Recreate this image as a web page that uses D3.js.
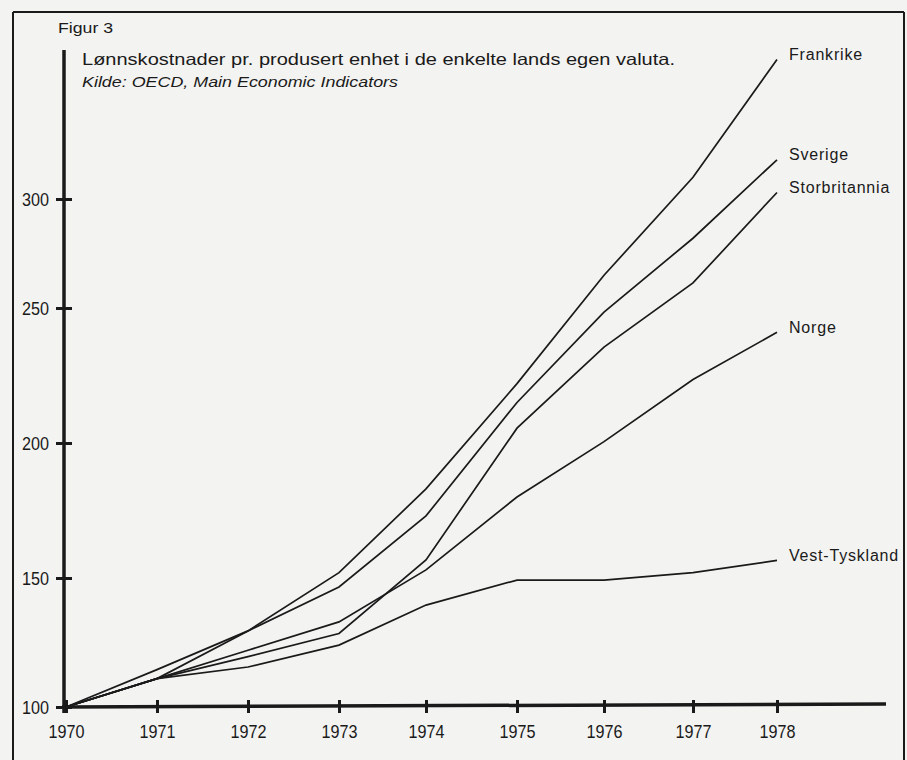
<!DOCTYPE html>
<html>
<head>
<meta charset="utf-8">
<script src="https://cdn.jsdelivr.net/npm/d3@7"></script>
<style>
  body { margin: 0; background: #f3f3f1; }
  svg { display: block; }
  text { font-family: "Liberation Sans", Arial, Helvetica, sans-serif; fill: #1a1a1a; }
</style>
</head>
<body>
<svg></svg>
<script>
// values (index, own currency)
const years = [1970, 1971, 1972, 1973, 1974, 1975, 1976, 1977, 1978];
const frankrike = [100, 114.5, 129.5, 152, 183, 222, 265, 310, 364];
const sverige = [100, 111, 129.5, 146.5, 173, 215, 248.5, 282, 318];
const storbritannia = [100, 111, 119.5, 128.5, 156.7, 205.5, 235.5, 261.5, 303];
const norge = [100, 111, 122, 133, 153, 180, 200.5, 223.5, 241];
const vestTyskland = [100, 111, 115.5, 124, 139.5, 149.2, 149.2, 152, 156.5];
const seriesNames = ["Frankrike", "Sverige", "Storbritannia", "Norge", "Vest-Tyskland"];
const yTicks = [100, 150, 200, 250, 300];

const width = 907;
const height = 760;
const ink = "#1a1a1a";
const svg = d3.select("svg").attr("width", width).attr("height", height);

const allSeries = [frankrike, sverige, storbritannia, norge, vestTyskland];

// the printed axes are not evenly spaced, so both scales are piecewise
const xScale = d3
  .scaleLinear()
  .domain(years)
  .range([66, 157, 248, 339, 426, 517, 604, 693, 777]);

const yScale = d3
  .scaleLinear()
  .domain(yTicks)
  .range([707, 578, 443, 308, 199]);

// frame
const frame = svg.append("g").attr("stroke", ink).attr("stroke-width", 2);
frame.append("line").attr("x1", 13).attr("y1", 12).attr("x2", 904).attr("y2", 12);
frame.append("line").attr("x1", 13).attr("y1", 12).attr("x2", 13).attr("y2", height);
frame.append("line").attr("x1", 904).attr("y1", 12).attr("x2", 904).attr("y2", height);

// texts at the top
svg.append("text")
  .attr("x", 58).attr("y", 33)
  .attr("font-size", 15)
  .attr("textLength", 55).attr("lengthAdjust", "spacingAndGlyphs")
  .text("Figur 3");

svg.append("text")
  .attr("x", 82).attr("y", 65)
  .attr("font-size", 16.5)
  .attr("textLength", 593).attr("lengthAdjust", "spacingAndGlyphs")
  .text("Lønnskostnader pr. produsert enhet i de enkelte lands egen valuta.");

svg.append("text")
  .attr("x", 82).attr("y", 87)
  .attr("font-size", 15)
  .attr("font-style", "italic")
  .attr("textLength", 316).attr("lengthAdjust", "spacingAndGlyphs")
  .text("Kilde: OECD, Main Economic Indicators");

// axes
const yAxis = d3.axisLeft(yScale).tickValues(yTicks).tickSize(8).tickSizeOuter(0).tickPadding(7);
const gy = svg.append("g").attr("transform", "translate(64,0)").call(yAxis);
gy.select(".domain").remove();
gy.selectAll(".tick line").attr("x1", 8).attr("stroke", ink).attr("stroke-width", 3);
gy.selectAll(".tick text")
  .attr("font-size", 19)
  .attr("font-family", "'Liberation Sans', Arial, sans-serif")
  .attr("textLength", 27).attr("lengthAdjust", "spacingAndGlyphs")
  .attr("fill", ink);

const xAxis = d3.axisBottom(xScale).tickValues(years).tickFormat(d3.format("d")).tickSize(6).tickSizeOuter(0).tickPadding(12);
const gx = svg.append("g").attr("transform", "translate(0," + yScale(100) + ")").call(xAxis);
gx.select(".domain").remove();
gx.selectAll(".tick line").attr("y1", -7).attr("stroke", ink).attr("stroke-width", 3);
gx.selectAll(".tick text")
  .attr("font-size", 19)
  .attr("font-family", "'Liberation Sans', Arial, sans-serif")
  .attr("textLength", 36).attr("lengthAdjust", "spacingAndGlyphs")
  .attr("fill", ink);

// axis lines, the vertical one runs up past the last tick
svg.append("line")
  .attr("x1", 64).attr("y1", 50).attr("x2", 64).attr("y2", yScale(100) + 6)
  .attr("stroke", ink).attr("stroke-width", 3.5);
svg.append("line")
  .attr("x1", 62).attr("y1", yScale(100)).attr("x2", 886).attr("y2", yScale(100) - 3)
  .attr("stroke", ink).attr("stroke-width", 3.5);

// lines
const line = d3
  .line()
  .x((d, i) => xScale(years[i]))
  .y((d) => yScale(d));

svg.append("g")
  .selectAll("path")
  .data(allSeries)
  .enter()
  .append("path")
  .attr("d", (d) => line(d))
  .attr("fill", "none")
  .attr("stroke", ink)
  .attr("stroke-width", 1.7)
  .attr("stroke-linejoin", "miter");

// labels at the line ends
svg.append("g")
  .selectAll("text")
  .data(allSeries)
  .enter()
  .append("text")
  .attr("x", xScale(1978) + 12)
  .attr("y", (d) => yScale(d[d.length - 1]) - 5)
  .attr("dy", "0.35em")
  .attr("font-size", 16)
  .attr("letter-spacing", 0.8)
  .text((d, i) => seriesNames[i]);
</script>
</body>
</html>
